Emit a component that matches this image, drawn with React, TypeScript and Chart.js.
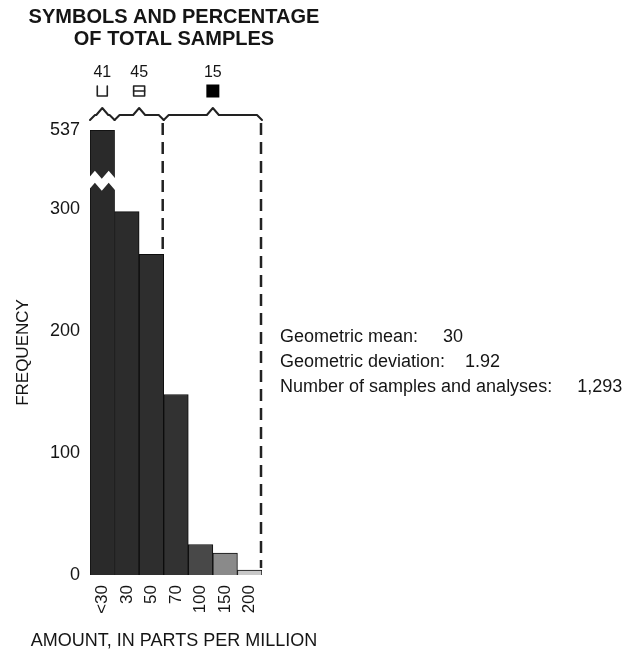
import React, { useEffect, useRef } from 'react';
import { Chart, registerables, LinearScale } from 'chart.js';

// ---------- data ----------
const categories = ['<30', '30', '50', '70', '100', '150', '200'];
const frequencies = [537, 298, 263, 148, 25, 18, 4];
const yTickValues = [0, 100, 200, 300, 537];
const axisBreakValue = 320;
const groupPercents = ['41', '45', '15'];
const groupStartIndex = [0, 1, 3];
const groupEndIndex = [0, 2, 6];
const groupSymbols = ['open', 'split', 'filled'];
const titleLines = ['SYMBOLS AND PERCENTAGE', 'OF TOTAL SAMPLES'];
const xAxisTitle = 'AMOUNT, IN PARTS PER MILLION';
const statLabels = ['Geometric mean:', 'Geometric deviation:', 'Number of samples and analyses:'];
const statValues = ['30', '1.92', '1,293'];
const barColors = ['#2a2a2a', '#2c2c2c', '#2e2e2e', '#323232', '#484848', '#8a8a8a', '#c8c8c8'];

const FONT = "'Liberation Sans', Arial, Helvetica, sans-serif";
const INK = '#151515';

// y scale with an axis break: values up to the break are drawn on the
// lower (linear) part, the rest is compressed into the top part.
class BrokenLinearScale extends LinearScale {
  static id = 'brokenLinear';
  getPixelForValue(value: number) {
    const o: any = this.options;
    const brk = o.breakValue as number;
    const frac = o.lowerFraction as number;
    const h = this.bottom - this.top;
    if (value <= brk) {
      return this.bottom - ((value - this.min) / (brk - this.min)) * h * frac;
    }
    return this.bottom - h * frac - ((value - brk) / (this.max - brk)) * h * (1 - frac);
  }
  getValueForPixel(pixel: number) {
    const o: any = this.options;
    const brk = o.breakValue as number;
    const frac = o.lowerFraction as number;
    const h = this.bottom - this.top;
    const d = this.bottom - pixel;
    if (d <= h * frac) return this.min + (d / (h * frac)) * (brk - this.min);
    return brk + ((d - h * frac) / (h * (1 - frac))) * (this.max - brk);
  }
}

Chart.register(...registerables, BrokenLinearScale);

const annotationPlugin = {
  id: 'annotations',
  afterDatasetsDraw(chart: any) {
    const ctx: CanvasRenderingContext2D = chart.ctx;
    const ys = chart.scales.y;
    const bars = chart.getDatasetMeta(0).data as any[];
    const leftOf = (i: number) => bars[i].x - bars[i].width / 2;
    const rightOf = (i: number) => bars[i].x + bars[i].width / 2;
    const area = chart.chartArea;
    ctx.save();

    // axis break on the first bar
    const bp = ys.getPixelForValue(axisBreakValue);
    const L = leftOf(0) - 2;
    const R = rightOf(0) + 1;
    const w = R - L;
    const topEdge = [[0, -6], [0.25, -14], [0.5, -6], [0.75, -14], [1, -6]];
    const botEdge = [[1, 6], [0.75, -2], [0.5, 6], [0.25, -2], [0, 6]];
    ctx.fillStyle = '#ffffff';
    ctx.beginPath();
    topEdge.forEach(([fx, dy], k) => {
      const px = L + fx * w;
      const py = bp + dy;
      if (k === 0) ctx.moveTo(px, py);
      else ctx.lineTo(px, py);
    });
    botEdge.forEach(([fx, dy]) => ctx.lineTo(L + fx * w, bp + dy));
    ctx.closePath();
    ctx.fill();

    // braces, percentages, symbols
    const braceY = area.top - 15;
    ctx.strokeStyle = '#222';
    ctx.lineWidth = 2;
    ctx.lineJoin = 'round';
    ctx.lineCap = 'round';
    groupStartIndex.forEach((s, g) => {
      const x0 = leftOf(s);
      const x1 = rightOf(groupEndIndex[g]);
      const mid = (x0 + x1) / 2;
      ctx.beginPath();
      ctx.moveTo(x0, braceY + 5);
      ctx.lineTo(x0 + 5, braceY);
      ctx.lineTo(mid - 6, braceY);
      ctx.lineTo(mid, braceY - 7);
      ctx.lineTo(mid + 6, braceY);
      ctx.lineTo(x1 - 5, braceY);
      ctx.lineTo(x1, braceY + 5);
      ctx.stroke();

      ctx.fillStyle = INK;
      ctx.font = `16px ${FONT}`;
      ctx.textAlign = 'center';
      ctx.textBaseline = 'middle';
      ctx.fillText(groupPercents[g], mid, braceY - 42);

      const sy = braceY - 24;
      const kind = groupSymbols[g];
      ctx.lineWidth = 1.6;
      if (kind === 'open') {
        ctx.beginPath();
        ctx.moveTo(mid - 5, sy - 5);
        ctx.lineTo(mid - 5, sy + 5);
        ctx.lineTo(mid + 5, sy + 5);
        ctx.lineTo(mid + 5, sy - 5);
        ctx.stroke();
      } else if (kind === 'split') {
        ctx.strokeRect(mid - 5.5, sy - 5, 11, 10);
        ctx.beginPath();
        ctx.moveTo(mid - 5.5, sy);
        ctx.lineTo(mid + 5.5, sy);
        ctx.stroke();
      } else {
        ctx.fillStyle = '#000';
        ctx.fillRect(mid - 6.5, sy - 6.5, 13, 13);
      }
      ctx.lineWidth = 2;
    });

    // dashed group boundaries
    ctx.setLineDash([12, 7]);
    ctx.lineWidth = 2.5;
    ctx.lineCap = 'butt';
    [groupEndIndex[1], groupEndIndex[2]].forEach((i) => {
      const x = rightOf(i) - 1;
      ctx.beginPath();
      ctx.moveTo(x, braceY + 8);
      ctx.lineTo(x, bars[i].y - 2);
      ctx.stroke();
    });
    ctx.setLineDash([]);

    // title
    const cx = (area.left + area.right) / 2 - 2;
    ctx.fillStyle = INK;
    ctx.font = `bold 20px ${FONT}`;
    ctx.textAlign = 'center';
    ctx.textBaseline = 'middle';
    titleLines.forEach((t, k) => ctx.fillText(t, cx, 17 + k * 22));

    // x axis title
    ctx.font = `18px ${FONT}`;
    ctx.fillText(xAxisTitle, cx, area.bottom + 66);

    // statistics
    ctx.font = `18px ${FONT}`;
    ctx.textAlign = 'left';
    const sx = area.right + 18;
    statLabels.forEach((lab, k) => {
      const y = 337 + k * 25;
      ctx.fillText(lab, sx, y);
      const wLab = ctx.measureText(lab).width;
      ctx.fillText(statValues[k], sx + wLab + (k === 1 ? 20 : 25), y);
    });
    ctx.restore();
  },
};

export default function App() {
  const ref = useRef<HTMLCanvasElement | null>(null);
  useEffect(() => {
    if (!ref.current) return;
    const chart = new Chart(ref.current, {
      type: 'bar',
      data: {
        labels: categories,
        datasets: [
          {
            data: frequencies,
            backgroundColor: barColors,
            borderColor: '#0d0d0d',
            borderWidth: 1,
            categoryPercentage: 1,
            barPercentage: 1,
          },
        ],
      },
      options: {
        animation: false,
        responsive: false,
        events: [],
        layout: { padding: { left: 0, right: 369, top: 130, bottom: 0 } },
        plugins: { legend: { display: false }, tooltip: { enabled: false }, title: { display: false } },
        scales: {
          x: {
            type: 'category',
            grid: { display: false, drawTicks: false },
            border: { display: false },
            ticks: {
              maxRotation: 90,
              minRotation: 90,
              autoSkip: false,
              padding: 10,
              color: INK,
              font: { family: FONT, size: 17 },
            },
            afterFit: (s: any) => {
              s.height = 79;
            },
          },
          y: {
            type: 'brokenLinear' as any,
            min: 0,
            max: 537,
            breakValue: axisBreakValue,
            lowerFraction: 0.877,
            grid: { display: false, drawTicks: false },
            border: { display: false },
            ticks: {
              padding: 10,
              color: INK,
              font: { family: FONT, size: 18 },
            },
            afterBuildTicks: (s: any) => {
              s.ticks = yTickValues.map((v) => ({ value: v }));
            },
            title: {
              display: true,
              text: 'FREQUENCY',
              color: INK,
              font: { family: FONT, size: 17 },
              padding: { top: 13, bottom: 0 },
            },
            afterFit: (s: any) => {
              s.width = 90;
            },
          } as any,
        },
      },
      plugins: [annotationPlugin],
    });
    return () => chart.destroy();
  }, []);
  return (
    <div style={{ position: 'absolute', left: 0, top: 0, width: 631, height: 654, background: '#fff' }}>
      <canvas ref={ref} width={631} height={654} />
    </div>
  );
}
